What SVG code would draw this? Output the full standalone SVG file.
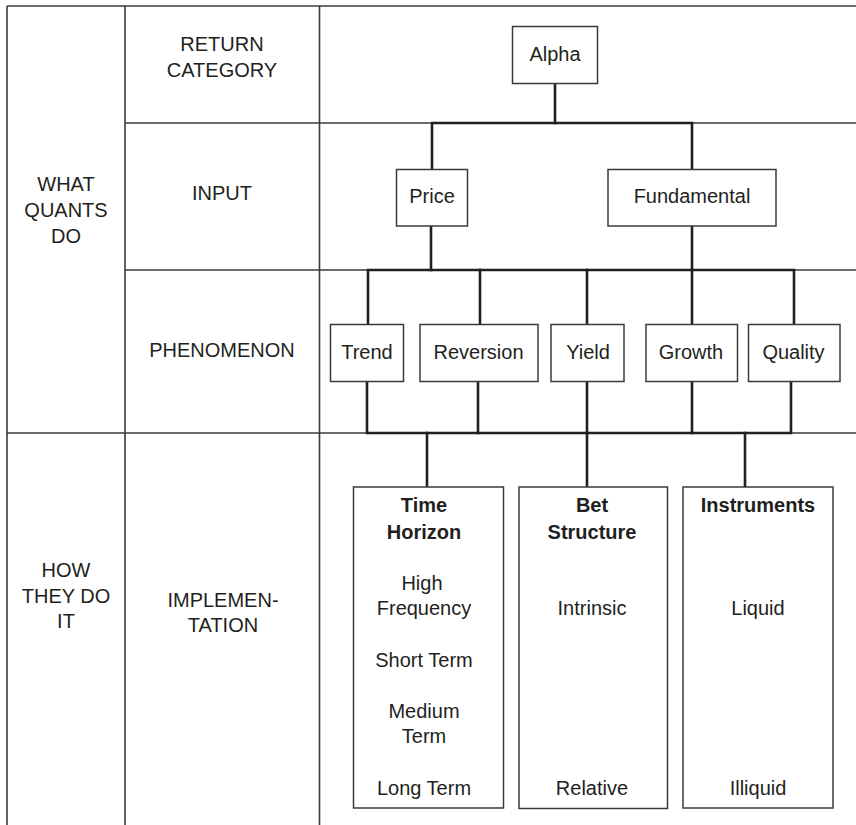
<svg xmlns="http://www.w3.org/2000/svg" width="856" height="825" viewBox="0 0 856 825">
<style>
.grid{stroke:#3a3a3a;stroke-width:1.6;fill:none}
.conn{stroke:#231f20;stroke-width:2.6;fill:none;stroke-linecap:square}
.box{fill:#fff;stroke:#3a3a3a;stroke-width:1.5}
text{font-family:"Liberation Sans",Arial,sans-serif;font-size:20px;fill:#231f20;text-anchor:middle}
.b{font-weight:bold}
</style>
<rect width="856" height="825" fill="#fff"/>
<g id="table">
<line class="grid" x1="7" y1="6" x2="856" y2="6"/>
<line class="grid" x1="7" y1="6" x2="7" y2="825"/>
<line class="grid" x1="125" y1="6" x2="125" y2="825"/>
<line class="grid" x1="319.5" y1="6" x2="319.5" y2="825"/>
<line class="grid" x1="125" y1="123" x2="856" y2="123"/>
<line class="grid" x1="125" y1="270" x2="856" y2="270"/>
<line class="grid" x1="7" y1="433" x2="856" y2="433"/>
</g>
<g id="row-labels">
<text x="66" y="191">WHAT</text>
<text x="66" y="217">QUANTS</text>
<text x="66" y="243">DO</text>
<text x="66" y="577">HOW</text>
<text x="66" y="603">THEY DO</text>
<text x="66" y="628">IT</text>
<text x="222" y="51">RETURN</text>
<text x="222" y="77">CATEGORY</text>
<text x="222" y="200">INPUT</text>
<text x="222" y="357">PHENOMENON</text>
<text x="223" y="607">IMPLEMEN-</text>
<text x="223" y="632">TATION</text>
</g>
<g id="connectors">
<polyline class="conn" points="555,83 555,123"/>
<polyline class="conn" points="432,169 432,123 692,123 692,169"/>
<polyline class="conn" points="431,226 431,270"/>
<polyline class="conn" points="692,226 692,270"/>
<polyline class="conn" points="368,324 368,270 794,270 794,324"/>
<polyline class="conn" points="480,270 480,324"/>
<polyline class="conn" points="587,270 587,324"/>
<polyline class="conn" points="692,270 692,324"/>
<polyline class="conn" points="367,381 367,433 791,433 791,381"/>
<polyline class="conn" points="478,381 478,433"/>
<polyline class="conn" points="587,381 587,433"/>
<polyline class="conn" points="692,381 692,433"/>
<polyline class="conn" points="427,433 427,487"/>
<polyline class="conn" points="587,433 587,487"/>
<polyline class="conn" points="745,433 745,487"/>
</g>
<g id="alpha"><rect class="box" x="512.5" y="26.5" width="85" height="57"/><text x="555" y="61">Alpha</text></g>
<g id="price"><rect class="box" x="396.5" y="169.5" width="71" height="56.5"/><text x="432" y="203">Price</text></g>
<g id="fundamental"><rect class="box" x="608" y="169.5" width="168" height="56.5"/><text x="692" y="203">Fundamental</text></g>
<g id="trend"><rect class="box" x="330.5" y="324.5" width="73" height="57"/><text x="367" y="359">Trend</text></g>
<g id="reversion"><rect class="box" x="420" y="324.5" width="118" height="57"/><text x="478.5" y="359">Reversion</text></g>
<g id="yield"><rect class="box" x="551" y="324.5" width="73" height="57"/><text x="588" y="359">Yield</text></g>
<g id="growth"><rect class="box" x="646" y="324.5" width="91.5" height="57"/><text x="691" y="359">Growth</text></g>
<g id="quality"><rect class="box" x="748.5" y="324.5" width="91.5" height="57"/><text x="793.5" y="359">Quality</text></g>
<g id="time-horizon">
<rect class="box" x="353.5" y="487" width="150" height="321"/>
<text class="b" x="424" y="512">Time</text>
<text class="b" x="424" y="539">Horizon</text>
<text x="422" y="590">High</text>
<text x="424" y="615">Frequency</text>
<text x="424" y="667">Short Term</text>
<text x="424" y="718">Medium</text>
<text x="424" y="743">Term</text>
<text x="424" y="795">Long Term</text>
</g>
<g id="bet-structure">
<rect class="box" x="519" y="487" width="148.5" height="321.5"/>
<text class="b" x="592" y="512">Bet</text>
<text class="b" x="592" y="539">Structure</text>
<text x="592" y="615">Intrinsic</text>
<text x="592" y="795">Relative</text>
</g>
<g id="instruments">
<rect class="box" x="683" y="487" width="150" height="321"/>
<text class="b" x="758" y="512">Instruments</text>
<text x="758" y="615">Liquid</text>
<text x="758" y="795">Illiquid</text>
</g>
</svg>
